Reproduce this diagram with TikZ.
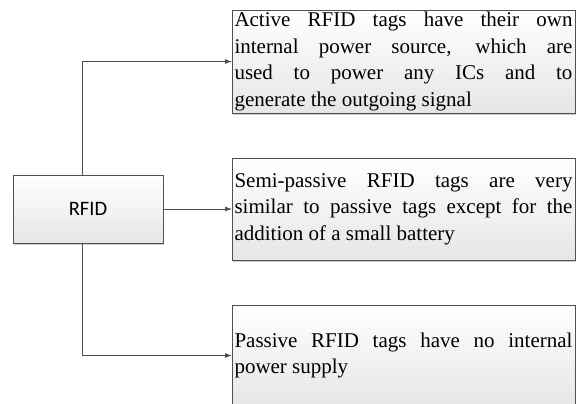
\documentclass[tikz,border=0pt]{standalone}
\usepackage{fontspec}
\setmainfont{Liberation Serif}
\newfontfamily\calib{Carlito}
\usetikzlibrary{arrows.meta,shadows}
\definecolor{edge}{HTML}{505050}
\definecolor{botfill}{HTML}{E6E6E6}
\tikzset{
  boxbase/.style={draw=edge, line width=0.8pt, top color=white, bottom color=botfill,
    drop shadow={shadow xshift=1.2pt, shadow yshift=-1.8pt, fill=black!25, opacity=0.8},
    outer sep=0pt, inner xsep=3pt, inner ysep=2pt},
  textbox/.style={boxbase, text width=338pt, minimum width=343pt, inner xsep=2.5pt, align=justify,
    font=\fontsize{21}{26.6}\selectfont},
  rootbox/.style={boxbase, minimum width=150pt, minimum height=68pt, font=\calib\fontsize{20.5}{24}\selectfont},
  arr/.style={draw=edge, line width=0.8pt, -{Latex[length=7pt,width=5pt]}}
}
\begin{document}
\begin{tikzpicture}[x=1pt,y=-1pt]
\useasboundingbox (0,0) rectangle (576,404);
\node[rootbox] (rfid) at (88,209) {RFID};
\node[textbox, minimum height=103pt] (active) at (403.5,61.5)
  {Active RFID tags have their own\linebreak internal power source, which are\linebreak used to power any ICs and to\linebreak generate the outgoing signal};
\node[textbox, minimum height=102pt] (semi) at (403.5,209)
  {Semi-passive RFID tags are very\linebreak similar to passive tags except for the\linebreak addition of a small battery};
\node[textbox, minimum height=101pt] (passive) at (403.5,355.5)
  {Passive RFID tags have no internal\linebreak power supply};
\draw[arr] ([xshift=-6pt]rfid.north) |- (active.west);
\draw[arr] (rfid.east) -- (semi.west);
\draw[arr] ([xshift=-6pt]rfid.south) |- (passive.west);
\end{tikzpicture}
\end{document}
